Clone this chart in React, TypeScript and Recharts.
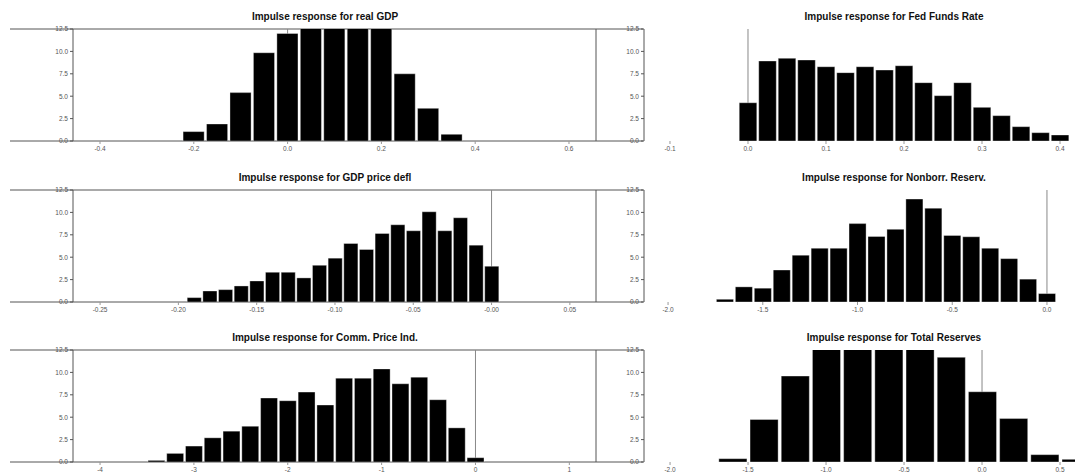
import React from "react";
import { ComposedChart, Bar, Line, XAxis, YAxis, ReferenceLine } from "recharts";

// histogram bins (centres) and heights
const gdpBins = [-0.2, -0.15, -0.1, -0.05, 0.0, 0.05, 0.1, 0.15, 0.2, 0.25, 0.3, 0.35];
const gdpHeights = [1.05, 1.9, 5.4, 9.85, 12.0, 13.6, 14.8, 14.2, 13.1, 7.5, 3.65, 0.75];
const gdpTicks = [-0.4, -0.2, 0, 0.2, 0.4, 0.6];
const gdpTickLabels = ["-0.4", "-0.2", "0.0", "0.2", "0.4", "0.6"];

const fedBins = [0, 0.025, 0.05, 0.075, 0.1, 0.125, 0.15, 0.175, 0.2, 0.225, 0.25, 0.275, 0.3, 0.325, 0.35, 0.375, 0.4];
const fedHeights = [4.27, 8.93, 9.23, 9.04, 8.29, 7.63, 8.29, 7.92, 8.4, 6.51, 5.06, 6.51, 3.76, 2.83, 1.6, 0.93, 0.67];
const fedTicks = [-0.1, 0, 0.1, 0.2, 0.3, 0.4];
const fedTickLabels = ["-0.1", "0.0", "0.1", "0.2", "0.3", "0.4"];

const deflBins = [-0.19, -0.18, -0.17, -0.16, -0.15, -0.14, -0.13, -0.12, -0.11, -0.1, -0.09, -0.08, -0.07, -0.06, -0.05, -0.04, -0.03, -0.02, -0.01, 0];
const deflHeights = [0.49, 1.23, 1.38, 1.79, 2.35, 3.32, 3.32, 2.69, 4.1, 4.89, 6.53, 5.86, 7.65, 8.62, 7.95, 10.07, 7.95, 9.4, 6.34, 3.99];
const deflTicks = [-0.25, -0.2, -0.15, -0.1, -0.05, 0, 0.05];
const deflTickLabels = ["-0.25", "-0.20", "-0.15", "-0.10", "-0.05", "-0.00", "0.05"];

const nbrBins = [-1.7, -1.6, -1.5, -1.4, -1.3, -1.2, -1.1, -1.0, -0.9, -0.8, -0.7, -0.6, -0.5, -0.4, -0.3, -0.2, -0.1, 0];
const nbrHeights = [0.3, 1.69, 1.54, 3.57, 5.22, 6.0, 6.0, 8.75, 7.32, 8.11, 11.49, 10.47, 7.43, 7.28, 6.0, 4.84, 2.55, 0.94];
const nbrTicks = [-2, -1.5, -1, -0.5, 0];
const nbrTickLabels = ["-2.0", "-1.5", "-1.0", "-0.5", "0.0"];

const commBins = [-3.4, -3.2, -3.0, -2.8, -2.6, -2.4, -2.2, -2.0, -1.8, -1.6, -1.4, -1.2, -1.0, -0.8, -0.6, -0.4, -0.2, 0];
const commHeights = [0.18, 0.96, 1.78, 2.7, 3.44, 3.99, 7.14, 6.84, 7.8, 6.36, 9.36, 9.36, 10.39, 8.73, 9.47, 6.95, 3.81, 0.48];
const commTicks = [-4, -3, -2, -1, 0, 1];
const commTickLabels = ["-4", "-3", "-2", "-1", "0", "1"];

const totBins = [-1.6, -1.4, -1.2, -1.0, -0.8, -0.6, -0.4, -0.2, 0, 0.2, 0.4, 0.6];
const totHeights = [0.37, 4.74, 9.59, 12.9, 13.8, 13.5, 12.8, 11.68, 7.84, 4.85, 0.82, 0.3];
const totTicks = [-2, -1.5, -1, -0.5, 0, 0.5];
const totTickLabels = ["-2.0", "-1.5", "-1.0", "-0.5", "0.0", "0.5"];

const yTicks = [0, 2.5, 5, 7.5, 10, 12.5];

const FONT = "'Liberation Sans', Arial, sans-serif";
const ROW_H = 161;
const AXIS = "#555";
const LABEL = "#555";

interface PanelSpec {
  title: string;
  bins: number[];
  heights: number[];
  binWidth: number;
  domain: [number, number];
  ticks: number[];
  tickLabels: string[];
}

const rows: { left: PanelSpec; right: PanelSpec }[] = [
  {
    left: { title: "Impulse response for real GDP", bins: gdpBins, heights: gdpHeights, binWidth: 0.05, domain: [-0.4576, 0.6576], ticks: gdpTicks, tickLabels: gdpTickLabels },
    right: { title: "Impulse response for Fed Funds Rate", bins: fedBins, heights: fedHeights, binWidth: 0.025, domain: [-0.1333, 0.4192], ticks: fedTicks, tickLabels: fedTickLabels },
  },
  {
    left: { title: "Impulse response for GDP price defl", bins: deflBins, heights: deflHeights, binWidth: 0.01, domain: [-0.2673, 0.0667], ticks: deflTicks, tickLabels: deflTickLabels },
    right: { title: "Impulse response for Nonborr. Reserv.", bins: nbrBins, heights: nbrHeights, binWidth: 0.1, domain: [-2.127, 0.148], ticks: nbrTicks, tickLabels: nbrTickLabels },
  },
  {
    left: { title: "Impulse response for Comm. Price Ind.", bins: commBins, heights: commHeights, binWidth: 0.2, domain: [-4.288, 1.284], ticks: commTicks, tickLabels: commTickLabels },
    right: { title: "Impulse response for Total Reserves", bins: totBins, heights: totHeights, binWidth: 0.2, domain: [-2.167, 0.596], ticks: totTicks, tickLabels: totTickLabels },
  },
];

const tickStyle = { fontSize: 6.5, fill: LABEL, fontFamily: FONT };

const Histogram: React.FC<{
  spec: PanelSpec;
  width: number;
  marginLeft: number;
  marginRight: number;
  yWidth: number;
  boxRight?: boolean;
}> = ({ spec, width, marginLeft, marginRight, yWidth, boxRight }) => {
  const data = spec.bins.map((b, i) => ({ x: b, y: spec.heights[i] }));
  const plotW = width - marginLeft - marginRight - yWidth;
  const barSize = (spec.binWidth * plotW) / (spec.domain[1] - spec.domain[0]);
  const labelFor = (v: number) => {
    const i = spec.ticks.findIndex((t) => Math.abs(t - v) < 1e-9);
    return i >= 0 ? spec.tickLabels[i] : String(v);
  };
  return (
    <ComposedChart
      width={width}
      height={ROW_H}
      data={data}
      margin={{ top: 29, right: marginRight, bottom: 0, left: marginLeft }}
    >
      <XAxis
        type="number"
        dataKey="x"
        domain={spec.domain}
        ticks={spec.ticks}
        tickFormatter={labelFor}
        allowDataOverflow
        axisLine={false}
        stroke="#999"
        tickSize={3}
        tickMargin={2}
        height={20}
        tick={tickStyle}
        interval={0}
      />
      <YAxis
        type="number"
        domain={[0, 12.5]}
        ticks={yTicks}
        tickFormatter={(v: number) => v.toFixed(1)}
        allowDataOverflow
        width={yWidth}
        stroke={AXIS}
        tickSize={3}
        tickMargin={2}
        tick={tickStyle}
        interval={0}
      />
      <ReferenceLine x={0} stroke="#888" strokeWidth={1} zIndex={-1} />
      {boxRight && <ReferenceLine x={spec.domain[1]} stroke={AXIS} strokeWidth={1} />}
      <Bar
        dataKey="y"
        fill="#000"
        stroke="#fff"
        strokeWidth={0.35}
        barSize={barSize}
        isAnimationActive={false}
      />
    </ComposedChart>
  );
};

// horizontal frame lines running across the left panel and its labels
const frameData = [
  { x: 0, y: 0 },
  { x: 1, y: 12.5 },
];

const Frame: React.FC = () => (
  <ComposedChart
    width={1079}
    height={ROW_H}
    data={frameData}
    margin={{ top: 29, right: 1079 - 643, bottom: 20, left: 10 }}
  >
    <XAxis type="number" dataKey="x" domain={[0, 1]} allowDataOverflow hide />
    <YAxis type="number" domain={[0, 12.5]} allowDataOverflow hide />
    <Line dataKey="y" stroke="none" dot={false} activeDot={false} isAnimationActive={false} />
    <ReferenceLine y={12.5} stroke={AXIS} strokeWidth={1} />
    <ReferenceLine y={0} stroke={AXIS} strokeWidth={1} />
  </ComposedChart>
);

const titleStyle = (center: number): React.CSSProperties => ({
  position: "absolute",
  top: 11,
  left: center - 150,
  width: 300,
  textAlign: "center",
  fontFamily: FONT,
  fontWeight: "bold",
  fontSize: 10,
  color: "#111",
  whiteSpace: "nowrap",
});

const App: React.FC = () => {
  return (
    <div style={{ position: "absolute", left: 0, top: 0, width: 1079, height: 474, background: "#fff", overflow: "hidden" }}>
      {rows.map((row, r) => (
        <div key={r} style={{ position: "absolute", left: 0, top: [0, 161, 321][r], width: 1079, height: ROW_H }}>
          <div style={{ position: "absolute", left: 0, top: 0 }}>
            <Frame />
          </div>
          <div style={{ position: "absolute", left: 0, top: 0 }}>
            <Histogram spec={row.left} width={660} marginLeft={40} marginRight={64} yWidth={33} boxRight />
          </div>
          <div style={{ position: "absolute", left: 600, top: 0 }}>
            <Histogram spec={row.right} width={479} marginLeft={4} marginRight={4} yWidth={40} />
          </div>
          <div style={titleStyle(325)}>{row.left.title}</div>
          <div style={titleStyle(894)}>{row.right.title}</div>
        </div>
      ))}
    </div>
  );
};

export default App;
